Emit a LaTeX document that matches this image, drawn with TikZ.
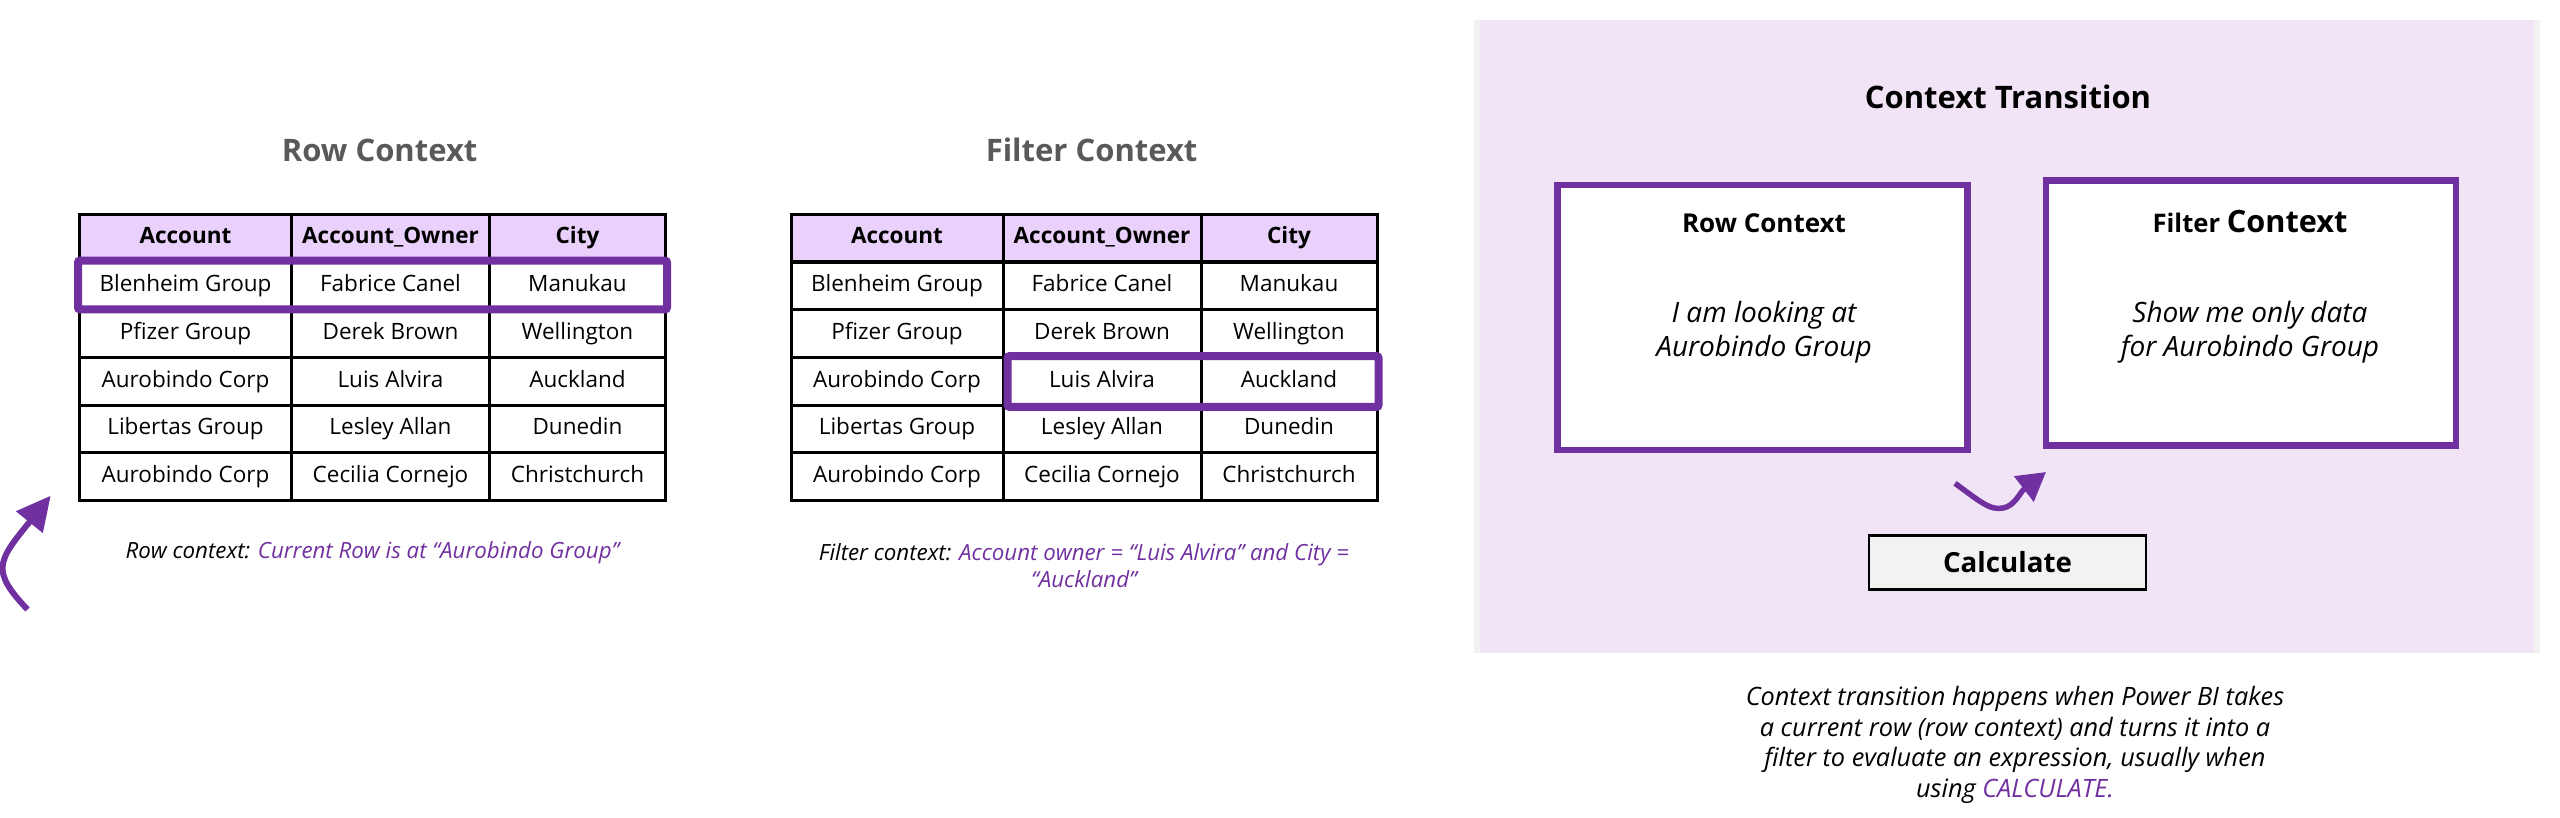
\documentclass[tikz,border=0pt]{standalone}
\usepackage{fontspec}
\setmainfont{Open Sans}
\usetikzlibrary{calc,arrows.meta}
\definecolor{brand}{HTML}{7030A0}
\definecolor{headfill}{HTML}{EAD1FC}
\definecolor{panelfill}{HTML}{F1E4F7}
\definecolor{panelband}{HTML}{F2F2F2}
\definecolor{titlegray}{HTML}{595959}
\tikzset{
	cell/.style={draw=black, line width=3pt, fill=white, inner sep=0pt, minimum height=47.8pt, text height=17.3pt, text depth=5.5pt, font=\fontsize{22.5}{27}\selectfont},
	headcell/.style={cell, fill=headfill, font=\fontsize{22.5}{27}\selectfont\bfseries},
	cola/.style={minimum width=212pt},
	colb/.style={minimum width=198pt},
	colc/.style={minimum width=176pt},
	heading/.style={font=\fontsize{31}{36}\selectfont\bfseries, text=titlegray},
	note/.style={align=center, inner sep=0pt, font=\fontsize{22.3}{27}\selectfont\itshape},
	marker/.style={draw=brand, line width=8pt, rounded corners=2pt},
	frame/.style={draw=brand, line width=6.5pt, fill=white, inner sep=0pt, minimum width=410pt, minimum height=265pt},
	curly/.style 2 args={draw=brand, -{Triangle[length=#1,width=#2]}},
}
\begin{document}
\begin{tikzpicture}[x=1pt,y=-1pt]
	\useasboundingbox (0,0) rectangle (2560,817);
	% row context table
	\node[heading] (rowtitle) at (379.7,150) {Row Context};
	\node[headcell,cola] (ra0) at (185.5,238) {Account};
	\node[headcell,colb] (rb0) at (390.5,238) {Account\_Owner};
	\node[headcell,colc] (rc0) at (577.5,238) {City};
	\node[cell,cola] (ra1) at (185.5,286) {Blenheim Group};
	\node[cell,colb] (rb1) at (390.5,286) {Fabrice Canel};
	\node[cell,colc] (rc1) at (577.5,286) {Manukau};
	\node[cell,cola] (ra2) at (185.5,333.5) {Pfizer Group};
	\node[cell,colb] (rb2) at (390.5,333.5) {Derek Brown};
	\node[cell,colc] (rc2) at (577.5,333.5) {Wellington};
	\node[cell,cola] (ra3) at (185.5,381.5) {Aurobindo Corp};
	\node[cell,colb] (rb3) at (390.5,381.5) {Luis Alvira};
	\node[cell,colc] (rc3) at (577.5,381.5) {Auckland};
	\node[cell,cola] (ra4) at (185.5,429) {Libertas Group};
	\node[cell,colb] (rb4) at (390.5,429) {Lesley Allan};
	\node[cell,colc] (rc4) at (577.5,429) {Dunedin};
	\node[cell,cola] (ra5) at (185.5,476.5) {Aurobindo Corp};
	\node[cell,colb] (rb5) at (390.5,476.5) {Cecilia Cornejo};
	\node[cell,colc] (rc5) at (577.5,476.5) {Christchurch};
	\draw[marker] (ra1.north west) rectangle ($(rc1.south east)+(0,-2)$);
	\node[note] (rownote) at (372.5,553) {Row context: \textcolor{brand}{Current Row is at “Aurobindo Group”}};
	\coordinate (curlstart) at (27.5,609.5);
	\coordinate (curltip) at (50.7,495.7);
	\draw[curly={34pt}{33pt}, line width=6pt] (curlstart) .. controls (-10,570) and (-2,561) .. (curltip);
	% filter context table
	\node[heading] (filtertitle) at (1091.6,150) {Filter Context};
	\node[headcell,cola] (fa0) at (897,238) {Account};
	\node[headcell,colb] (fb0) at (1102,238) {Account\_Owner};
	\node[headcell,colc] (fc0) at (1289,238) {City};
	\node[cell,cola] (fa1) at (897,286) {Blenheim Group};
	\node[cell,colb] (fb1) at (1102,286) {Fabrice Canel};
	\node[cell,colc] (fc1) at (1289,286) {Manukau};
	\node[cell,cola] (fa2) at (897,333.5) {Pfizer Group};
	\node[cell,colb] (fb2) at (1102,333.5) {Derek Brown};
	\node[cell,colc] (fc2) at (1289,333.5) {Wellington};
	\node[cell,cola] (fa3) at (897,381.5) {Aurobindo Corp};
	\node[cell,colb] (fb3) at (1102,381.5) {Luis Alvira};
	\node[cell,colc] (fc3) at (1289,381.5) {Auckland};
	\node[cell,cola] (fa4) at (897,429) {Libertas Group};
	\node[cell,colb] (fb4) at (1102,429) {Lesley Allan};
	\node[cell,colc] (fc4) at (1289,429) {Dunedin};
	\node[cell,cola] (fa5) at (897,476.5) {Aurobindo Corp};
	\node[cell,colb] (fb5) at (1102,476.5) {Cecilia Cornejo};
	\node[cell,colc] (fc5) at (1289,476.5) {Christchurch};
	\draw[marker] ($(fb3.north west)+(6,0)$) rectangle (fc3.south east);
	\node[note] (filternote) at (1084,565.5) {Filter context: \textcolor{brand}{Account owner = “Luis Alvira” and City =}\\\textcolor{brand}{“Auckland”}};
	% context transition panel
	\fill[panelband] (1474,20) rectangle (2540,653);
	\fill[panelfill] (1480,20) rectangle (2534,653);
	\node[font=\fontsize{31}{36}\selectfont\bfseries] (paneltitle) at (2008,97) {Context Transition};
	\node[frame] (rowbox) at (1762.5,317.5) {};
	\node[frame] (filterbox) at (2251,313) {};
	\node[font=\fontsize{26}{32}\selectfont\bfseries] (rowhead) at (1764,223.5) {Row Context};
	\node[font=\fontsize{25.6}{32}\selectfont\bfseries] (filterhead) at (2250,222) {Filter {\fontsize{30.7}{32}\selectfont Context}};
	\node[note, font=\fontsize{28}{34}\selectfont\itshape] (rowtext) at (1764,332.5) {I am looking at\\Aurobindo Group};
	\node[note, font=\fontsize{28}{34}\selectfont\itshape] (filtertext) at (2250,332) {Show me only data\\for Aurobindo Group};
	\node[draw=black, line width=2.5pt, fill=panelband, minimum width=277pt, minimum height=54pt, font=\fontsize{27.7}{32}\selectfont\bfseries] (calc) at (2007.5,562.5) {Calculate};
	\coordinate (bendstart) at (1955,483.3);
	\coordinate (bendlow) at (2003,508);
	\coordinate (bendtip) at (2046,472);
	\draw[curly={28pt}{31pt}, line width=5.5pt] (bendstart) .. controls (1978,500) and (1990,511) .. (bendlow) .. controls (2015,506) and (2020,492) .. (bendtip);
	\node[note, font=\fontsize{25.3}{30.5}\selectfont\itshape] (transnote) at (2015,745) {Context transition happens when Power BI takes\\a current row (row context) and turns it into a\\filter to evaluate an expression, usually when\\using \textcolor{brand}{CALCULATE.}};
\end{tikzpicture}
\end{document}
